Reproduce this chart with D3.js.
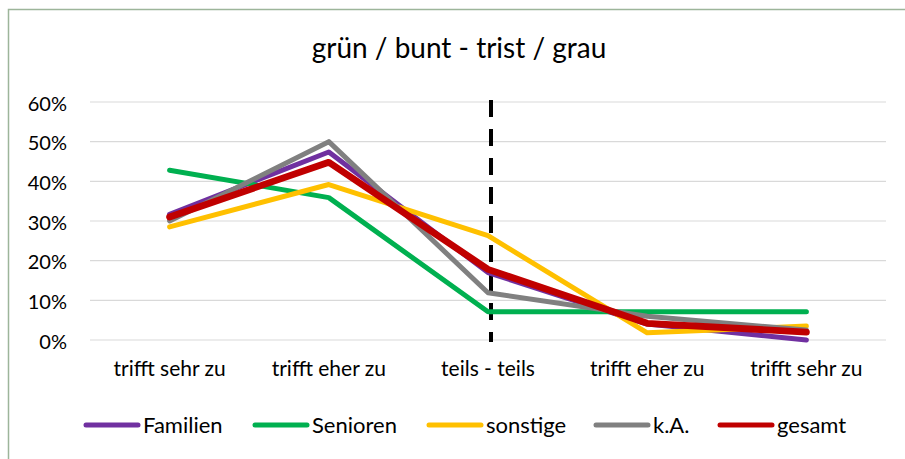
<!DOCTYPE html>
<html>
<head>
<meta charset="utf-8">
<script src="https://cdn.jsdelivr.net/npm/d3@7"></script>
<style>
  body { margin: 0; background: #fff; }
  svg text { font-family: Lato, "Open Sans", sans-serif; fill: #000; }
</style>
</head>
<body>
<svg id="chart" width="905" height="459"></svg>
<script>
// chart data
const categories = ["trifft sehr zu", "trifft eher zu", "teils - teils", "trifft eher zu ", "trifft sehr zu "];
const familien = [0.317, 0.474, 0.17, 0.04, 0.0];
const senioren = [0.428, 0.359, 0.071, 0.071, 0.071];
const sonstige = [0.285, 0.392, 0.263, 0.018, 0.035];
const ka = [0.30, 0.50, 0.119, 0.06, 0.025];
const gesamt = [0.31, 0.448, 0.178, 0.042, 0.02];
const seriesNames = ["Familien", "Senioren", "sonstige", "k.A.", "gesamt"];
const yTicks = [0, 0.1, 0.2, 0.3, 0.4, 0.5, 0.6];
const dividerCategory = "teils - teils";

const colors = ["#7030a0", "#00b050", "#ffc000", "#808080", "#c00000"];
const widths = [5, 5, 5, 5, 6.8];
const allSeries = [familien, senioren, sonstige, ka, gesamt];

const svg = d3.select("#chart");

// outer frame
svg.append("rect")
    .attr("x", 8.5).attr("y", 9.5)
    .attr("width", 905).attr("height", 460)
    .attr("fill", "none")
    .attr("stroke", "#9db59a")
    .attr("stroke-width", 1.5);

const x = d3.scaleBand().domain(categories).range([90, 886]);
const cx = c => x(c) + x.bandwidth() / 2;
const y = d3.scaleLinear().domain([0, 0.6]).range([340, 102]);

// title
svg.append("text")
    .attr("x", 459).attr("y", 58)
    .attr("text-anchor", "middle")
    .style("font-size", "28px")
    .text("grün / bunt - trist / grau");

// gridlines
svg.append("g")
  .selectAll("line")
  .data(yTicks)
  .join("line")
    .attr("x1", 90).attr("x2", 886)
    .attr("y1", d => y(d)).attr("y2", d => y(d))
    .attr("stroke", "#d9d9d9")
    .attr("stroke-width", 1.2);

// y axis labels
const yAxis = svg.append("g")
    .attr("transform", "translate(90,0)")
    .call(d3.axisLeft(y).tickValues(yTicks).tickFormat(d3.format(".0%")).tickSize(0).tickPadding(23));
yAxis.select(".domain").remove();
yAxis.selectAll("text")
    .attr("dy", "0.4em")
    .style("font-size", "20px")
    .style("font-family", "Lato, sans-serif");

// x axis labels
const xAxis = svg.append("g")
    .attr("transform", "translate(0,340)")
    .call(d3.axisBottom(x).tickSize(0).tickPadding(21));
xAxis.select(".domain").remove();
xAxis.selectAll("text")
    .style("font-size", "21px")
    .style("font-family", "Lato, sans-serif");

// dashed divider
svg.append("line")
    .attr("x1", cx(dividerCategory) + 3).attr("x2", cx(dividerCategory) + 3)
    .attr("y1", y(0.6) - 2).attr("y2", y(0) + 2)
    .attr("stroke", "#000")
    .attr("stroke-width", 4)
    .attr("stroke-dasharray", "17 12");

// series lines
const line = d3.line()
    .x((d, i) => cx(categories[i]))
    .y(d => y(d));

svg.append("g")
  .selectAll("path")
  .data(allSeries)
  .join("path")
    .attr("d", line)
    .attr("fill", "none")
    .attr("stroke", (d, i) => colors[i])
    .attr("stroke-width", (d, i) => widths[i])
    .attr("stroke-linejoin", "round")
    .attr("stroke-linecap", "round");

// legend
const legendX = [84, 253, 427, 594, 718];
const legend = svg.append("g")
  .selectAll("g")
  .data(seriesNames)
  .join("g")
    .attr("transform", (d, i) => `translate(${legendX[i]},425)`);

legend.append("line")
    .attr("x1", 2).attr("x2", 54)
    .attr("stroke", (d, i) => colors[i])
    .attr("stroke-width", 5)
    .attr("stroke-linecap", "round");

legend.append("text")
    .attr("x", 59).attr("dy", "0.36em")
    .style("font-size", "22px")
    .text(d => d);
</script>
</body>
</html>
